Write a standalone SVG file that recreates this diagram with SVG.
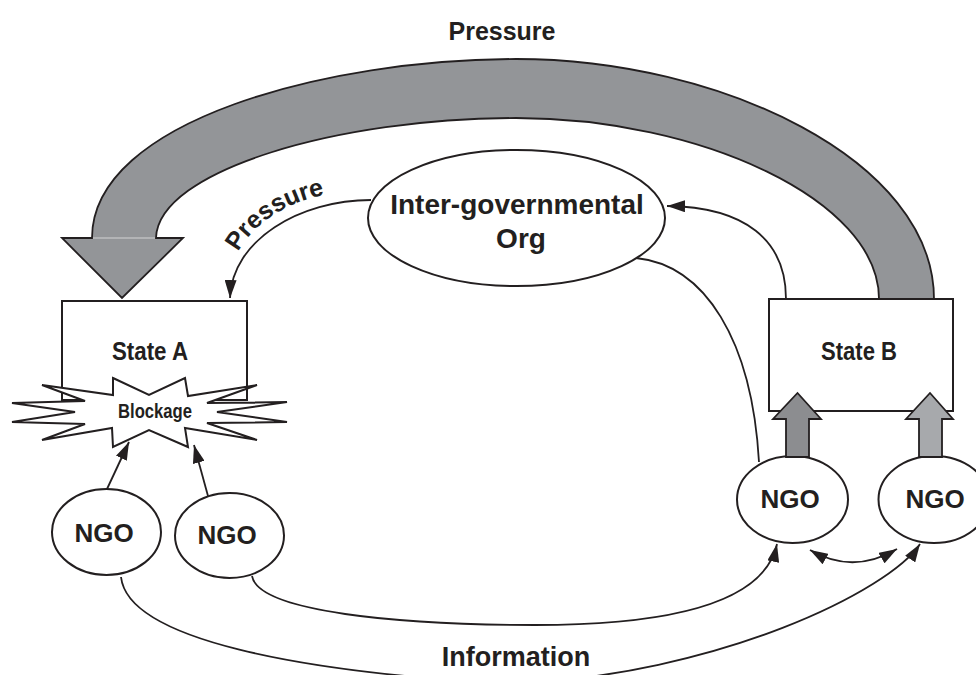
<svg xmlns="http://www.w3.org/2000/svg" width="976" height="675" viewBox="0 0 976 675">
<style>
.shape{fill:#fff;stroke:#231f20;stroke-width:2}
.lbl{font-family:"Liberation Sans",Arial,sans-serif;font-weight:bold;fill:#231f20;text-anchor:middle}
.con{fill:none;stroke:#231f20;stroke-width:1.8}
.big{fill:#939598;stroke:#231f20;stroke-width:1.8;stroke-linejoin:miter}
.blk1{fill:#8c8d90;stroke:#231f20;stroke-width:1.8}
.blk2{fill:#a7a9ac;stroke:#231f20;stroke-width:1.8}
</style>
<defs>
<marker id="ah" viewBox="0 0 18 12" refX="18" refY="6" markerWidth="18" markerHeight="12" markerUnits="userSpaceOnUse" orient="auto-start-reverse"><path d="M0,0 L18,6 L0,12 Z" fill="#231f20"/></marker>
<path id="pp" d="M238,252 C260,214 300,196 348,191"/>
</defs>
<rect width="976" height="675" fill="#fff"/>

<g id="stateA">
<rect class="shape" x="62" y="301" width="185" height="99"/>
<text class="lbl" x="150" y="360" font-size="26" textLength="76" lengthAdjust="spacingAndGlyphs">State A</text>
</g>
<g id="blockage">
<polygon class="shape" stroke-width="2.4" points="113,378 149,395 185,378 188,396 257,385 207,403 287,402 217,412 287,422 207,423 257,440 185,428 188,447 149,430 113,447 112,428 42,440 85,424 12,422 75,412 12,403 85,401 42,385 113,395"/>
<text class="lbl" x="155" y="418" font-size="20" textLength="74" lengthAdjust="spacingAndGlyphs">Blockage</text>
</g>
<g id="igo">
<ellipse class="shape" cx="516.5" cy="218" rx="148.5" ry="68"/>
<text class="lbl" x="517" y="214" font-size="28">Inter-governmental</text>
<text class="lbl" x="521" y="248" font-size="28">Org</text>
</g>
<g id="stateB">
<rect class="shape" x="769" y="299" width="184" height="112"/>
<text class="lbl" x="859" y="360" font-size="26" textLength="76" lengthAdjust="spacingAndGlyphs">State B</text>
</g>
<g id="ngo1">
<ellipse class="shape" cx="106.5" cy="532" rx="54.5" ry="43"/>
<text class="lbl" x="104" y="542" font-size="26">NGO</text>
</g>
<g id="ngo2">
<ellipse class="shape" cx="229.5" cy="535.5" rx="54.5" ry="42.5"/>
<text class="lbl" x="227" y="544" font-size="26">NGO</text>
</g>
<g id="ngo3">
<ellipse class="shape" cx="792.5" cy="499.5" rx="55.5" ry="43.5"/>
<text class="lbl" x="790" y="508" font-size="26">NGO</text>
</g>
<g id="ngo4">
<ellipse class="shape" cx="934" cy="499.5" rx="55.5" ry="43.5"/>
<text class="lbl" x="935" y="508" font-size="26">NGO</text>
</g>

<g id="connectors">
<path class="big" d="M934,299 C934,160 720,59 516,59 C330,59 92,120 92,238 L62,238 L122,298 L183,238 L156,238 C158,170 340,118 516,118 C700,118 879,200 879,299 Z"/>
<line x1="93" y1="238" x2="155" y2="238" stroke="#d4d4d4" stroke-width="1.2"/>
<text class="lbl" x="502" y="40" font-size="25">Pressure</text>
<path class="con" d="M371,200 C300,200 232,240 230,298" marker-end="url(#ah)"/>
<text class="lbl" font-size="25" style="text-anchor:start"><textPath href="#pp">Pressure</textPath></text>
<path class="con" d="M786,299 C786,240 745,207 667,206" marker-end="url(#ah)"/>
<path class="con" d="M636,258 C705,265 752,340 759,462"/>
<line class="con" x1="107" y1="489" x2="129" y2="442" marker-end="url(#ah)"/>
<line class="con" x1="208" y1="496" x2="194" y2="445" marker-end="url(#ah)"/>
<path class="con" d="M252,576 C258,612 400,625 535,625 C680,625 765,600 777,544" marker-end="url(#ah)"/>
<path class="con" d="M121,577 C128,640 300,672 510,684 C720,675 890,590 920,544" marker-end="url(#ah)"/>
<path class="con" d="M810,550 Q853,575 897,549" marker-start="url(#ah)" marker-end="url(#ah)"/>
<polygon class="blk1" points="786,457 786,419 773,419 797.5,393 821,419 809,419 809,457"/>
<polygon class="blk2" points="919,457 919,419 906,419 930,393 953,419 942,419 942,457"/>
<text class="lbl" x="516" y="666" font-size="27">Information</text>
</g>
</svg>
